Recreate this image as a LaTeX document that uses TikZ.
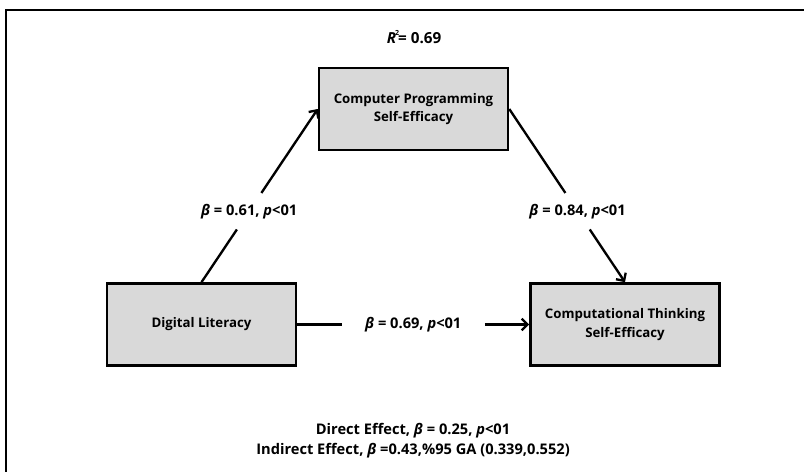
\documentclass[tikz,border=0pt]{standalone}
\usepackage{fontspec}
\setmainfont{Open Sans}
\usetikzlibrary{positioning,arrows.meta}

\definecolor{boxgray}{HTML}{D9D9D9}

\tikzset{
    varbox/.style = {draw, line width=2.2pt, fill=boxgray, minimum width=5.67cm,
                     minimum height=2.46cm, align=center, font=\bfseries\fontsize{11.3}{16}\selectfont},
    coef/.style   = {font=\bfseries\fontsize{12.5}{14}\selectfont, inner xsep=0.15cm, inner ysep=0.32cm},
    link/.style   = {line width=2pt},
    tip/.style    = {-{Straight Barb[length=5pt,width=10pt]}},
}

\begin{document}
\begin{tikzpicture}[x=0.03cm, y=-0.03cm]
    \useasboundingbox (0,0) rectangle (804,472);
    \draw [line width=1.2pt] (6,472) -- (6,10) -- (804,10);

    \node (rsq) at (414,37) {\bfseries\fontsize{13}{14}\selectfont\textit{R}\kern-0.8pt\raisebox{6.5pt}{\fontsize{6}{6}\selectfont 2}\kern-0.8pt= 0.69};

    \node [varbox] (cpse) at (413.5,109) {Computer Programming\\Self-Efficacy};
    \node [varbox] (dl)   at (201.5,324.5) {Digital Literacy};
    \node [varbox] (ctse) at (625,324.5) {Computational Thinking\\Self-Efficacy};

    % a path
    \path (dl.north) -- node [coef, pos=0.41] (ca) {\textit{β} = 0.61, \textit{p}<01} (cpse.west);
    \draw [link] (dl.north) -- (ca);
    \draw [link, tip] (ca) -- (cpse.west);

    % b path
    \path (cpse.east) -- node [coef, pos=0.59] (cb) {\textit{β} = 0.84, \textit{p}<01} (ctse.north);
    \draw [link] (cpse.east) -- (cb);
    \draw [link, tip] (cb) -- (ctse.north);

    % c' path
    \path (dl.east) -- node [coef, inner xsep=0.7cm] (cc) {\textit{β} = 0.69, \textit{p}<01} (ctse.west);
    \draw [link] (dl.east) -- (cc);
    \draw [link, tip] (cc) -- (ctse.west);

    \node [align=center, font=\bfseries\fontsize{12.5}{17}\selectfont] (effects) at (413,441)
        {Direct Effect, \textit{β} = 0.25, \textit{p}<01\\
         Indirect Effect, \textit{β} =0.43,\%95 GA (0.339,0.552)};
\end{tikzpicture}
\end{document}
